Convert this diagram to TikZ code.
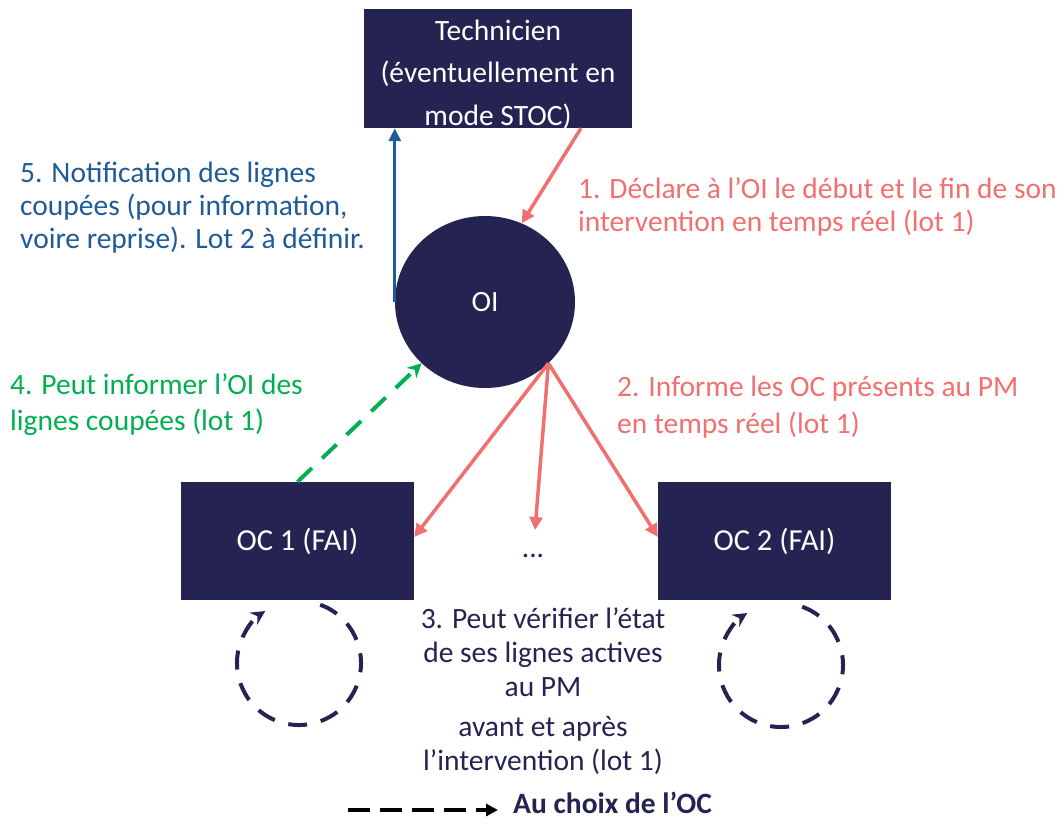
\documentclass[tikz,border=0pt]{standalone}
\usepackage{fontspec}
\setmainfont{Carlito}
\usetikzlibrary{arrows.meta,shapes.geometric,calc}
\definecolor{navy}{RGB}{37,35,82}
\definecolor{salmon}{RGB}{240,112,112}
\definecolor{bluet}{RGB}{31,91,153}
\definecolor{greent}{RGB}{0,176,80}
\tikzset{
  darkbox/.style={draw=none,fill=navy,text=white,minimum width=#1,minimum height=118pt,inner sep=0pt,align=center},
  lbl/.style={font=\fontsize{29.5}{33}\selectfont,inner sep=0pt,align=left,anchor=west},
  redarrow/.style={draw=salmon,line width=3.5pt,-{Triangle[length=13pt,width=13pt]}},
  bluearrow/.style={draw=bluet,line width=3pt,-{Triangle[length=13pt,width=12pt]}},
  greenarrow/.style={draw=greent,line width=4pt,dash pattern=on 20pt off 14pt,-{Stealth[length=14pt,width=14pt]}},
  loopstyle/.style={draw=navy,line width=4pt,dash pattern=on 19pt off 14pt,-{Stealth[length=14pt,width=14pt]}},
}
\begin{document}
\begin{tikzpicture}[x=1pt,y=1pt,font=\fontsize{29.5}{33}\selectfont]
\useasboundingbox (0,0) rectangle (1057,-823);
% nodes
\node[darkbox=268pt,minimum height=119pt] (tech) at (498,-68.5) {};
\node[inner sep=0pt,text=white,align=center,font=\fontsize{29.5}{42.5}\selectfont] (techtxt) at (498,-74.5) {Technicien\\(éventuellement en\\mode STOC)};
\node[ellipse,fill=navy,text=white,minimum width=180pt,minimum height=172pt,inner sep=0pt] (oi) at (485,-302) {OI};
\node[darkbox=233pt,font=\fontsize{30.5}{33}\selectfont] (oc1) at (297.5,-541) {OC 1 (FAI)};
\node[darkbox=233pt,font=\fontsize{30.5}{33}\selectfont] (oc2) at (774.5,-541) {OC 2 (FAI)};
\node[inner sep=0pt,text=navy] (dots) at (533,-556) {...};
\coordinate (mid) at (535,-530);
% connectors
\draw[redarrow] (tech.south -| 581,0) -- (oi.65);
\draw[bluearrow] (oi.west) -- (oi.west |- tech.south);
\draw[greenarrow] (oc1.north) -- (oi.224);
\draw[redarrow] (oi.-44) -- ([yshift=4pt]oc1.east);
\draw[redarrow] (oi.-44) -- (mid);
\draw[redarrow] (oi.-44) -- ([yshift=4pt]oc2.west);
% loops
\coordinate (c1) at (299,-663);
\coordinate (c2) at (781,-665);
\draw[loopstyle] ($(c1)+(70:62)$) arc[start angle=70,end angle=-237,radius=62pt];
\draw[loopstyle] ($(c2)+(70:62)$) arc[start angle=70,end angle=-237,radius=62pt];
% labels
\node[lbl,text=bluet] (t5) at (20,-208) {5. Notification des lignes\\coupées (pour information,\\voire reprise). Lot 2 à définir.};
\node[lbl,text=salmon] (t1) at (578,-207) {1. Déclare à l’OI le début et le fin de son\\intervention en temps réel (lot 1)};
\node[lbl,text=salmon,font=\fontsize{29.5}{37}\selectfont] (t2) at (617,-407) {2. Informe les OC présents au PM\\en temps réel (lot 1)};
\node[lbl,text=greent,font=\fontsize{29.5}{36}\selectfont] (t4) at (10,-405) {4. Peut informer l’OI des\\lignes coupées (lot 1)};
\node[lbl,align=center,anchor=center,text=navy,font=\fontsize{29.5}{34}\selectfont] (t3) at (543,-691.5) {3. Peut vérifier l’état\\de ses lignes actives\\au PM\\[6pt]avant et après\\l’intervention (lot 1)};
% legend
\coordinate (lg1) at (348,-810);
\coordinate (lg2) at (498,-810);
\draw[line width=4pt,dash pattern=on 22pt off 10pt,-{Triangle[length=12pt,width=12pt]}] (lg1) -- (lg2);
\node[inner sep=0pt,anchor=base west,text=navy,font=\fontsize{29.5}{33}\selectfont\bfseries] (leg) at (513,-813) {Au choix de l’OC};
\end{tikzpicture}
\end{document}
